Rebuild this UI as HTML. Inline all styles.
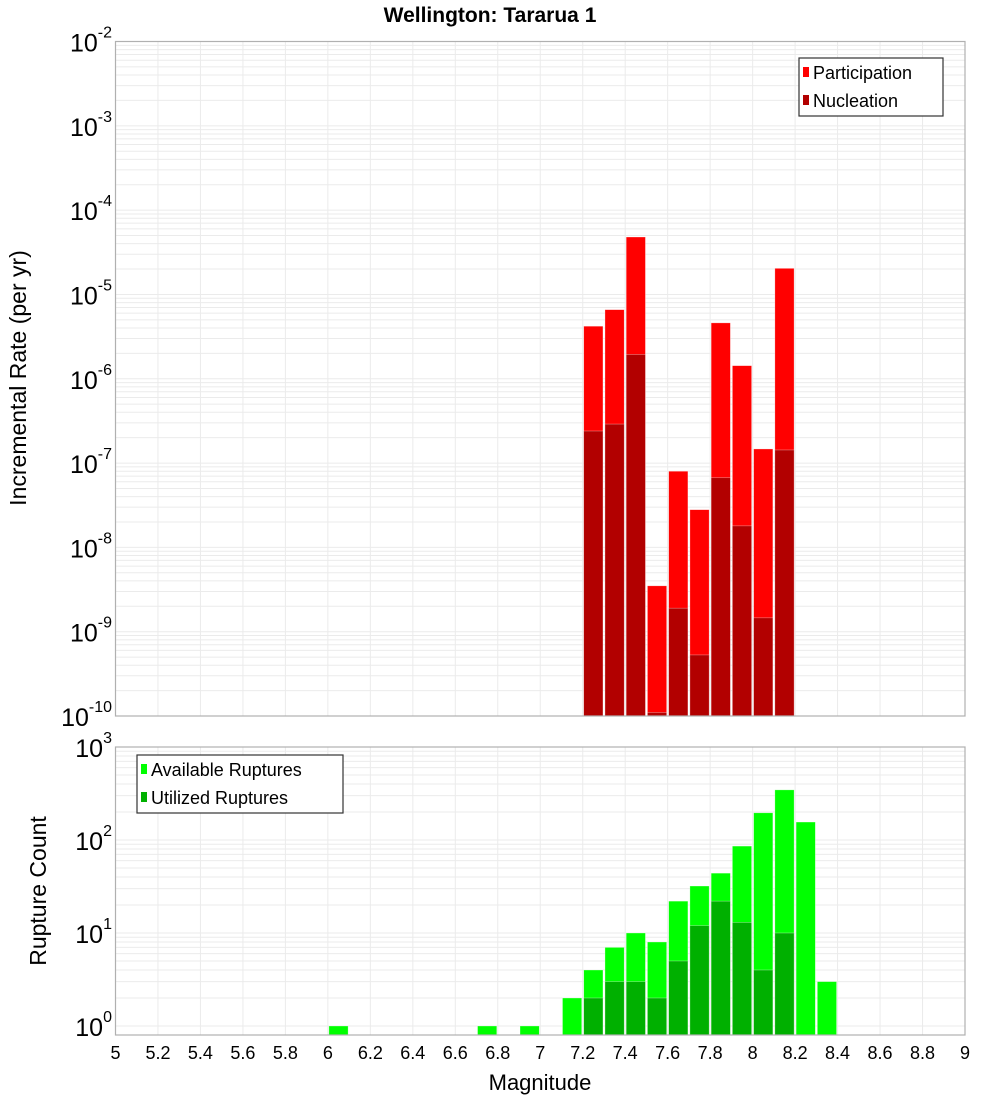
<!DOCTYPE html>
<html><head><meta charset="utf-8"><style>
body{margin:0;background:#fff;}
svg{display:block;font-family:"Liberation Sans","DejaVu Sans",sans-serif;}
</style></head><body>
<svg id="c" width="1000" height="1100" xmlns="http://www.w3.org/2000/svg">
<text x="490" y="22" text-anchor="middle" font-size="21" font-weight="bold">Wellington: Tararua 1</text>
<text transform="translate(26,378) rotate(-90)" text-anchor="middle" font-size="23">Incremental Rate (per yr)</text>
<text transform="translate(46,891) rotate(-90)" text-anchor="middle" font-size="23">Rupture Count</text>
<text x="540" y="1090" text-anchor="middle" font-size="22">Magnitude</text>
<g id="g"></g>
</svg>
<script>
const mags = [7.25,7.35,7.45,7.55,7.65,7.75,7.85,7.95,8.05,8.15];
const participation = [4.2e-6,6.6e-6,4.8e-5,3.5e-9,8e-8,2.8e-8,4.6e-6,1.43e-6,1.47e-7,2.04e-5];
const nucleation = [2.4e-7,2.9e-7,1.94e-6,1.1e-10,1.9e-9,5.3e-10,6.7e-8,1.8e-8,1.46e-9,1.43e-7];
const countMags = [6.05,6.75,6.95,7.15,7.25,7.35,7.45,7.55,7.65,7.75,7.85,7.95,8.05,8.15,8.25,8.35];
const available = [1,1,1,2,4,7,10,8,22,32,44,86,196,346,156,3];
const utilizedMags = [7.25,7.35,7.45,7.55,7.65,7.75,7.85,7.95,8.05,8.15];
const utilized = [2,3,3,2,5,12,22,13,4,10];
const xTicks = [5,5.2,5.4,5.6,5.8,6,6.2,6.4,6.6,6.8,7,7.2,7.4,7.6,7.8,8,8.2,8.4,8.6,8.8,9];

const NS="http://www.w3.org/2000/svg";
const g=document.getElementById('g');
const L=115.5,R=965;
const x=m=>L+(m-5)/4*(R-L);
const T1=41.5,B1=716,T2=747,B2=1035;
const y1=v=>T1+(-2-Math.log10(v))/8*(B1-T1);
const lo2=Math.log10(0.8);
const y2=v=>T2+(3-Math.log10(v))/(3-lo2)*(B2-T2);
function el(t,a,p){const e=document.createElementNS(NS,t);for(const k in a)e.setAttribute(k,a[k]);(p||g).appendChild(e);return e;}

function panel(top,bot,yf,dmin,dmax,lo,name){
  const pg=el('g',{});
  
  
  el('rect',{x:L,y:top,width:R-L,height:bot-top,fill:'#fff'},pg);
  for(let d=dmin;d<dmax;d++){for(let k=1;k<10;k++){const v=k*Math.pow(10,d);if(v<lo)continue;const yy=yf(v);
    el('line',{x1:L,x2:R,y1:yy,y2:yy,stroke:'#ebebeb','stroke-width':1},pg);}}
  xTicks.forEach(t=>{el('line',{x1:x(t),x2:x(t),y1:top,y2:bot,stroke:'#ebebeb','stroke-width':1},pg);});
  for(let d=dmin;d<=dmax;d++){const yy=yf(Math.pow(10,d));
    const tx=el('text',{x:112,y:yy+10,'text-anchor':'end','font-size':25},pg);
    
    
    tx.textContent='10';
    const s=el('tspan',{dy:-14,'font-size':16},tx);s.textContent=String(d);}
  return pg;
}
const p1=panel(T1,B1,y1,-10,-2,1e-10,'top-plot');
const p2=panel(T2,B2,y2,0,3,0.8,'bottom-plot');

function bar(m,v,yf,bot,fill,name){
  const xl=x(m-0.05)+1,xr=x(m+0.05)-1,yt=yf(v);
  const r=el('rect',{x:xl,y:yt,width:xr-xl,height:bot-yt,fill:fill,stroke:'#fff','stroke-opacity':0.5,'stroke-width':0.6});
  
  
}
mags.forEach((m,i)=>bar(m,participation[i],y1,B1,'#ff0000','participation-bar'));
mags.forEach((m,i)=>bar(m,nucleation[i],y1,B1,'#b20000','nucleation-bar'));
countMags.forEach((m,i)=>bar(m,available[i],y2,B2,'#00ff00','available-bar'));
utilizedMags.forEach((m,i)=>bar(m,utilized[i],y2,B2,'#00b000','utilized-bar'));

el('rect',{x:L,y:T1,width:R-L,height:B1-T1,fill:'none',stroke:'#b0b0b0','stroke-width':1.2});
el('rect',{x:L,y:T2,width:R-L,height:B2-T2,fill:'none',stroke:'#b0b0b0','stroke-width':1.2});

xTicks.forEach(t=>{const tx=el('text',{x:x(t),y:1059,'text-anchor':'middle','font-size':18});
  
  
  tx.textContent=String(t);});

function legend(lx,ly,w,items,name){
  const lg=el('g',{});
  
  
  el('rect',{x:lx,y:ly,width:w,height:58,fill:'#fff',stroke:'#333','stroke-width':1.2},lg);
  items.forEach((it,i)=>{
    el('rect',{x:lx+4,y:ly+9+i*28,width:6,height:10,fill:it[1]},lg);
    const tx=el('text',{x:lx+14,y:ly+21+i*28,'font-size':18},lg);
    
    
    tx.textContent=it[0];
  });
}
legend(799,58,144,[['Participation','#ff0000'],['Nucleation','#b20000']],'top-legend');
legend(137,755,206,[['Available Ruptures','#00ff00'],['Utilized Ruptures','#00b000']],'bottom-legend');
</script>
</body></html>
